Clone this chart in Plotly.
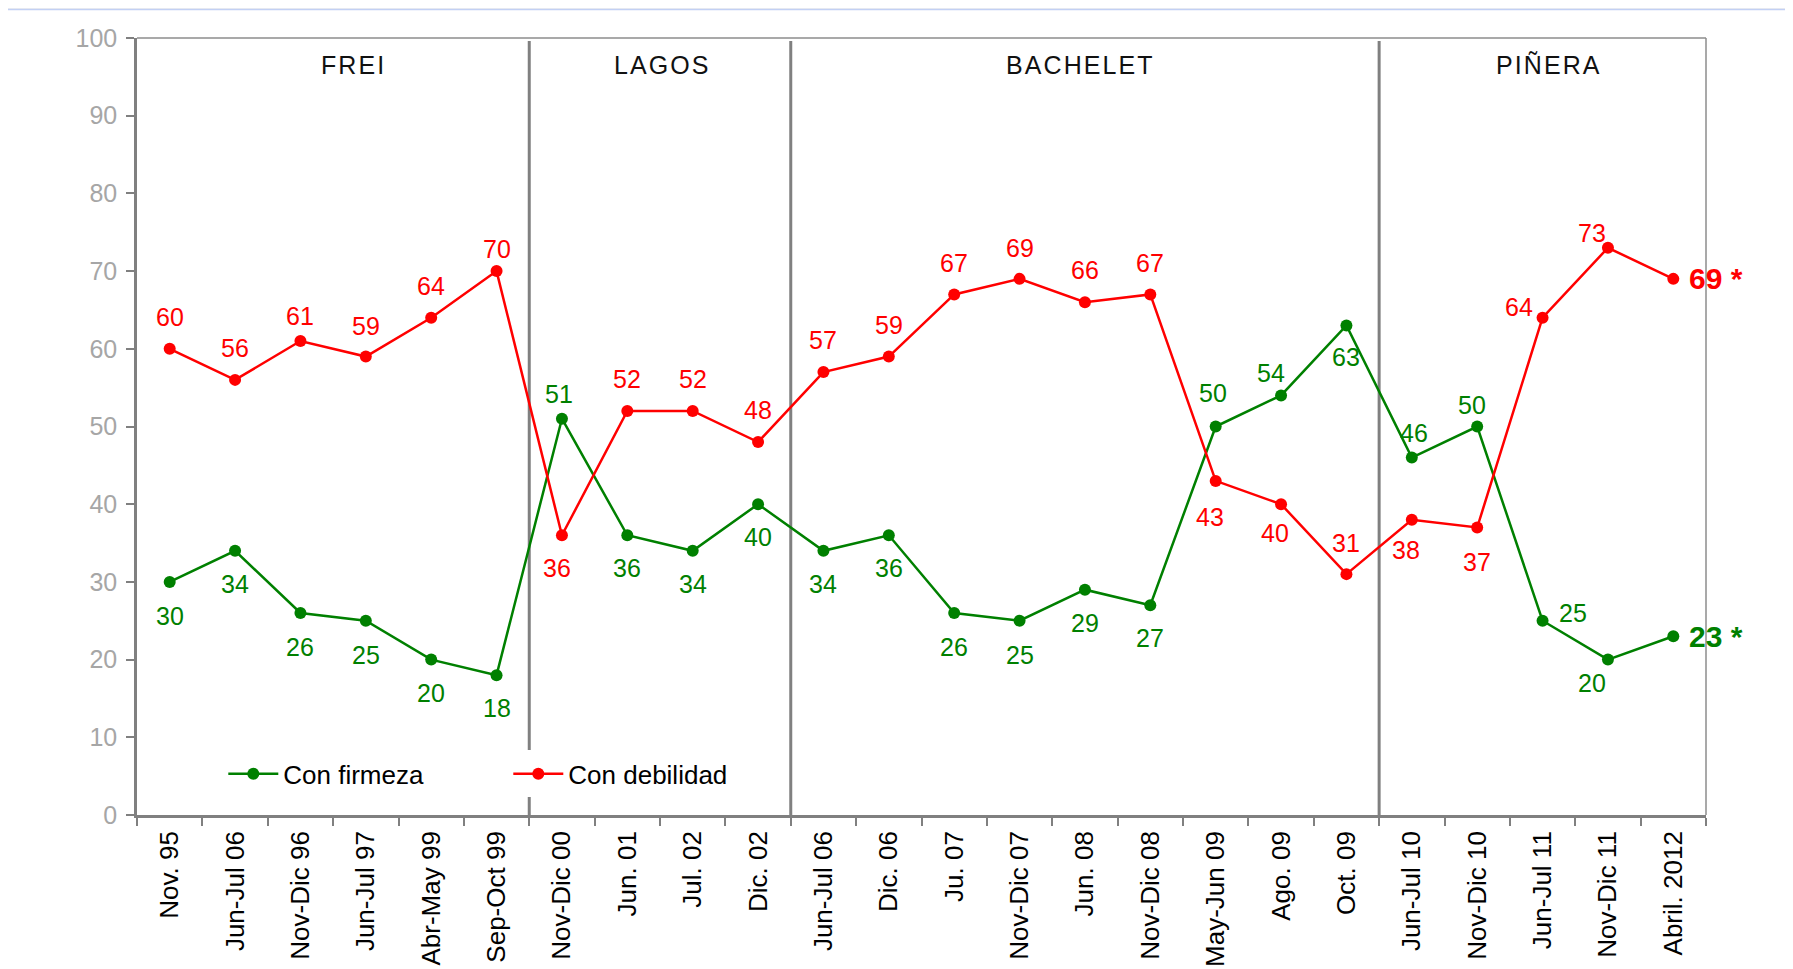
import plotly.graph_objects as go

periodos = ["Nov. 95", "Jun-Jul 06", "Nov-Dic 96", "Jun-Jul 97", "Abr-May 99", "Sep-Oct 99",
            "Nov-Dic 00", "Jun. 01", "Jul. 02", "Dic. 02",
            "Jun-Jul 06", "Dic. 06", "Ju. 07", "Nov-Dic 07", "Jun. 08", "Nov-Dic 08",
            "May-Jun 09", "Ago. 09", "Oct. 09",
            "Jun-Jul 10", "Nov-Dic 10", "Jun-Jul 11", "Nov-Dic 11", "Abril. 2012"]

con_firmeza = [30, 34, 26, 25, 20, 18, 51, 36, 34, 40, 34, 36, 26, 25, 29, 27, 50, 54, 63, 46, 50, 25, 20, 23]
con_debilidad = [60, 56, 61, 59, 64, 70, 36, 52, 52, 48, 57, 59, 67, 69, 66, 67, 43, 40, 31, 38, 37, 64, 73, 69]

gobiernos = ["FREI", "LAGOS", "BACHELET", "PIÑERA"]
cortes = [5.5, 9.5, 18.5]          # boundaries between governments (x positions)
centro_gob = [2.79, 7.53, 13.91, 21.08]

# label placement offsets (px) for each point; last point is labelled in bold to the right
off_firmeza = [(0, 34), (0, 33), (0, 34), (0, 34), (0, 33), (0, 33), (-3, -25), (0, 33), (0, 33), (0, 33),
               (0, 33), (0, 33), (0, 34), (0, 34), (0, 33), (0, 33), (-3, -34), (-10, -22), (0, 32),
               (2, -25), (-5, -22), (30, -8), (-16, 23), None]
off_debilidad = [(0, -32), (0, -32), (0, -25), (0, -31), (0, -32), (0, -22), (-5, 33), (0, -32), (0, -32),
                 (0, -32), (0, -32), (0, -32), (0, -31), (0, -31), (0, -32), (0, -31), (-6, 36), (-6, 29),
                 (0, -31), (-6, 30), (0, 34), (-24, -11), (-16, -15), None]

VERDE = "#008000"
ROJO = "#ff0000"
GRIS = "#808080"
FONT = "Liberation Sans, Arial, sans-serif"

x = list(range(len(periodos)))

fig = go.Figure()
for nombre, vals, color, lw in [("Con firmeza", con_firmeza, VERDE, 220),
                                ("Con debilidad", con_debilidad, ROJO, 162)]:
    fig.add_trace(go.Scatter(
        x=x, y=vals, name=nombre, mode="lines+markers",
        line=dict(color=color, width=2.5),
        marker=dict(color=color, size=12),
        legendwidth=lw,
        hoverinfo="skip",
    ))

annotations = []
for vals, offs, color in [(con_firmeza, off_firmeza, VERDE), (con_debilidad, off_debilidad, ROJO)]:
    for i, (v, off) in enumerate(zip(vals, offs)):
        if off is None:
            annotations.append(dict(
                x=x[i], y=v, xref="x", yref="y", text=f"<b>{v}</b> <b>*</b>", showarrow=False,
                xanchor="left", yanchor="middle", xshift=14,
                font=dict(family=FONT, size=30, color=color)))
        else:
            annotations.append(dict(
                x=x[i], y=v, xref="x", yref="y", text=str(v), showarrow=False,
                xanchor="center", yanchor="middle", xshift=off[0], yshift=-off[1],
                font=dict(family=FONT, size=25, color=color)))

for nombre, cx in zip(gobiernos, centro_gob):
    annotations.append(dict(
        x=cx, y=96.5, xref="x", yref="y", text="\u200a".join(nombre), showarrow=False,
        xanchor="center", yanchor="middle",
        font=dict(family=FONT, size=25, color="#111111")))

shapes = [
    # page frame
    dict(type="rect", xref="paper", yref="paper", x0=-0.0841, x1=1.3, y0=-0.5, y1=1.0366,
         fillcolor="white", line=dict(color="#c2d0f4", width=1.5), layer="below"),
    # top and right border of the plot area
    dict(type="line", xref="paper", yref="paper", x0=0, x1=1, y0=1, y1=1,
         line=dict(color="#8c8c8c", width=1.5), layer="below"),
    dict(type="line", xref="paper", yref="paper", x0=1, x1=1, y0=0, y1=1,
         line=dict(color="#8c8c8c", width=1.5), layer="below"),
]
for c in cortes:
    shapes.append(dict(type="line", xref="x", yref="y", x0=c, x1=c, y0=0, y1=99.6,
                       line=dict(color=GRIS, width=3), layer="below"))

fig.update_layout(
    width=1793, height=969,
    margin=dict(l=129, r=95, t=30, b=162),
    paper_bgcolor="#f0f0f0",
    plot_bgcolor="white",
    font=dict(family=FONT, color="black"),
    showlegend=True,
    legend=dict(
        orientation="h", x=0.055, y=0.053, xanchor="left", yanchor="middle",
        bgcolor="white", font=dict(family=FONT, size=26, color="black"),
        itemwidth=50,
    ),
    annotations=annotations,
    shapes=shapes,
    xaxis=dict(
        range=[-0.5, 23.5], tickmode="array", tickvals=x, ticktext=periodos,
        tickangle=-90, ticks="", ticklabelstandoff=3, automargin=False,
        tickfont=dict(family=FONT, size=26, color="black"),
        showgrid=False, zeroline=False, showline=True, linecolor=GRIS, linewidth=2.5,
        minor=dict(tickmode="array", tickvals=[i - 0.5 for i in range(len(periodos) + 1)],
                   ticks="outside", ticklen=8, tickwidth=2, tickcolor=GRIS, showgrid=False),
    ),
    yaxis=dict(
        range=[0, 100], dtick=10, ticks="outside", ticklen=8, tickwidth=2, tickcolor=GRIS,
        ticklabelstandoff=4, automargin=False,
        tickfont=dict(family=FONT, size=25, color="#a6a6a6"),
        showgrid=False, zeroline=False, showline=True, linecolor=GRIS, linewidth=2.5,
    ),
)

fig.write_html("out.html")
